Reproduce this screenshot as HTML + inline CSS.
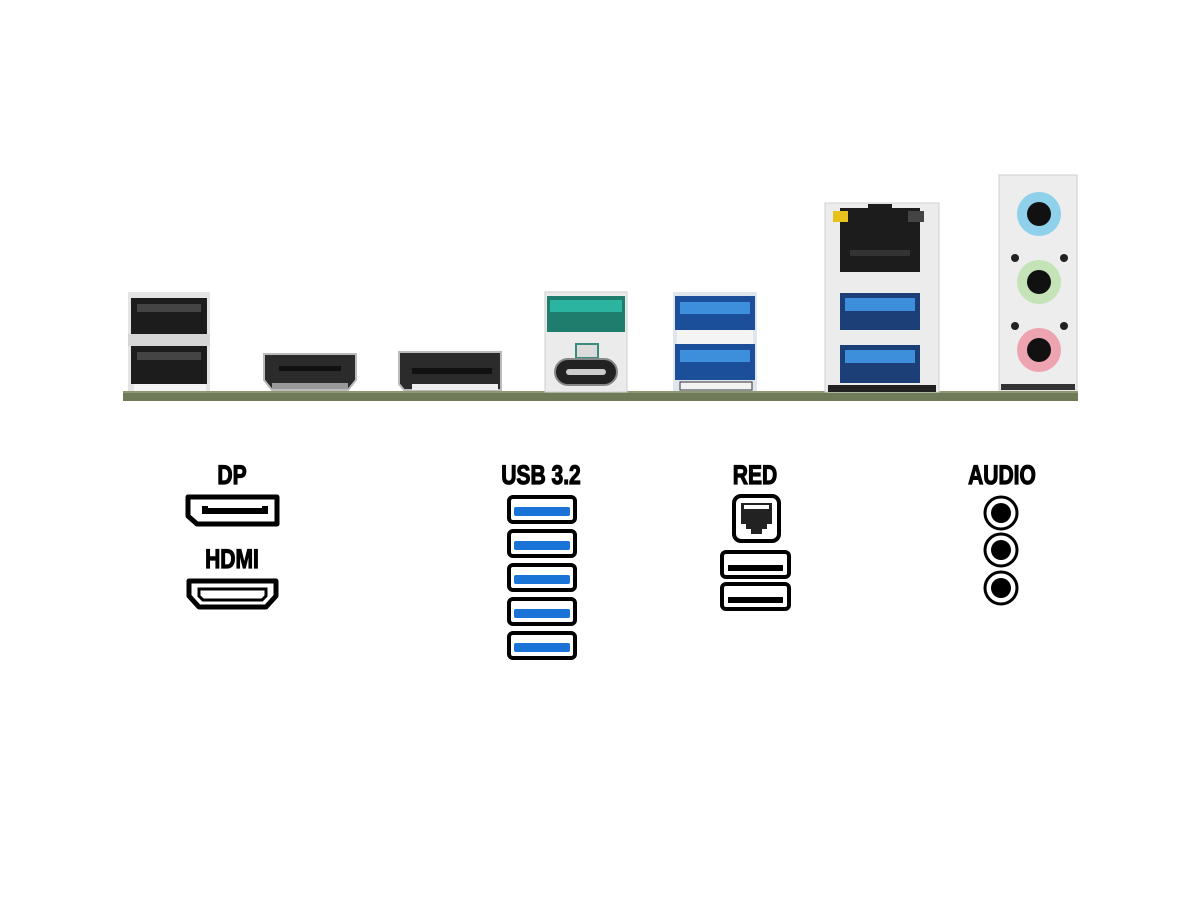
<!DOCTYPE html>
<html><head><meta charset="utf-8"><style>
html,body{margin:0;padding:0;background:#fff;}
svg{display:block}
text{font-family:"Liberation Sans Narrow","Liberation Sans",sans-serif;font-weight:bold;}
</style></head><body>
<svg width="1200" height="900" viewBox="0 0 1200 900" xmlns="http://www.w3.org/2000/svg">
<rect width="1200" height="900" fill="#fff"/>
<rect x="123" y="391" width="955" height="10" fill="#6e7a58"/>
<rect x="123" y="391" width="955" height="2" fill="#8d9873"/>

<rect x="128" y="292" width="82" height="99" fill="#e4e4e4"/>
<rect x="131" y="298" width="76" height="36" fill="#1c1c1c"/>
<rect x="137" y="304" width="64" height="8" fill="#444"/>
<rect x="128" y="334" width="82" height="12" fill="#d6d6d6"/>
<rect x="131" y="346" width="76" height="38" fill="#1c1c1c"/>
<rect x="137" y="352" width="64" height="8" fill="#444"/>
<rect x="134" y="384" width="72" height="7" fill="#f5f5f5"/>

<path d="M264 354 H356 V380 L348 390 H272 L264 380 Z" fill="#2b2b2b" stroke="#bbb" stroke-width="2"/>
<rect x="279" y="366" width="62" height="5" fill="#111"/>
<rect x="272" y="383" width="76" height="6" fill="#999"/>

<path d="M399 352 H501 V390 H404 L399 384 Z" fill="#2b2b2b" stroke="#bbb" stroke-width="2"/>
<rect x="412" y="368" width="80" height="6" fill="#111"/>
<rect x="412" y="384" width="86" height="6" fill="#eee"/>

<rect x="545" y="292" width="82" height="100" fill="#ebebeb" stroke="#ccc"/>
<rect x="547" y="296" width="78" height="36" fill="#1f7d6e"/>
<rect x="550" y="300" width="72" height="12" fill="#2bb5a0"/>
<rect x="576" y="344" width="22" height="14" fill="#dcdcdc" stroke="#3a8c80" stroke-width="2"/>
<rect x="555" y="359" width="62" height="26" rx="13" fill="#222" stroke="#888" stroke-width="2"/>
<rect x="566" y="369" width="40" height="6" rx="3" fill="#ccc"/>

<rect x="673" y="292" width="84" height="99" fill="#dfe6ee"/>
<rect x="675" y="296" width="80" height="34" fill="#1c4f9a"/>
<rect x="680" y="302" width="70" height="12" fill="#3d8fdc"/>
<rect x="677" y="330" width="76" height="14" fill="#f4f4f4"/>
<rect x="675" y="344" width="80" height="36" fill="#1c4f9a"/>
<rect x="680" y="350" width="70" height="12" fill="#3d8fdc"/>
<rect x="680" y="382" width="72" height="8" fill="#f2f2f2" stroke="#333"/>

<rect x="825" y="203" width="114" height="189" fill="#ececec" stroke="#d0d0d0"/>
<rect x="840" y="208" width="80" height="64" fill="#1c1c1c"/>
<rect x="868" y="204" width="24" height="10" fill="#1c1c1c"/>
<rect x="833" y="211" width="15" height="11" fill="#e8c21c"/>
<rect x="908" y="211" width="16" height="11" fill="#444"/>
<rect x="850" y="250" width="60" height="6" fill="#333"/>
<rect x="840" y="293" width="80" height="37" fill="#1d3f78"/>
<rect x="845" y="298" width="70" height="13" fill="#3d8fdc"/>
<rect x="840" y="345" width="80" height="38" fill="#1d3f78"/>
<rect x="845" y="350" width="70" height="13" fill="#3d8fdc"/>
<rect x="828" y="385" width="108" height="7" fill="#222"/>

<rect x="999" y="175" width="78" height="215" fill="#ededed" stroke="#cfcfcf"/>
<rect x="1001" y="384" width="74" height="6" fill="#333"/>
<circle cx="1039" cy="214" r="22" fill="#8fd0ea"/><circle cx="1039" cy="214" r="12" fill="#111"/>
<circle cx="1039" cy="282" r="22" fill="#c4e4b8"/><circle cx="1039" cy="282" r="12" fill="#111"/>
<circle cx="1039" cy="350" r="22" fill="#eea3b0"/><circle cx="1039" cy="350" r="12" fill="#111"/>
<circle cx="1015" cy="258" r="4" fill="#222"/><circle cx="1064" cy="258" r="4" fill="#222"/>
<circle cx="1015" cy="326" r="4" fill="#222"/><circle cx="1064" cy="326" r="4" fill="#222"/>

<g font-size="27" text-anchor="middle" fill="#000" stroke="#000" stroke-width="1.2">
<text x="232" y="484" transform="translate(232 0) scale(0.78 1) translate(-232 0)">DP</text>
<text x="232" y="568" transform="translate(232 0) scale(0.78 1) translate(-232 0)">HDMI</text>
<text x="541" y="484" transform="translate(541 0) scale(0.78 1) translate(-541 0)">USB 3.2</text>
<text x="755" y="484" transform="translate(755 0) scale(0.78 1) translate(-755 0)">RED</text>
<text x="1002" y="484" transform="translate(1002 0) scale(0.78 1) translate(-1002 0)">AUDIO</text>
</g>

<path d="M188 497 H277 V524 H197 L188 516 Z" fill="none" stroke="#000" stroke-width="5" stroke-linejoin="round"/>
<path d="M202 506 V514 H268 V506 H262 V508 H208 V506 Z" fill="#000"/>
<path d="M189 581 H276 V596 L266 607 H199 L189 596 Z" fill="none" stroke="#000" stroke-width="5" stroke-linejoin="round"/>
<path d="M199 589 H266 V596 L262 600 H203 L199 596 Z" fill="none" stroke="#000" stroke-width="3"/>

<g fill="none" stroke="#000" stroke-width="4">
<rect x="509" y="497" width="66" height="25" rx="4"/>
<rect x="509" y="531" width="66" height="25" rx="4"/>
<rect x="509" y="565" width="66" height="25" rx="4"/>
<rect x="509" y="599" width="66" height="25" rx="4"/>
<rect x="509" y="633" width="66" height="25" rx="4"/>
</g>
<g fill="#1a73d6">
<rect x="514" y="507" width="56" height="9" rx="2"/>
<rect x="514" y="541" width="56" height="9" rx="2"/>
<rect x="514" y="575" width="56" height="9" rx="2"/>
<rect x="514" y="609" width="56" height="9" rx="2"/>
<rect x="514" y="643" width="56" height="9" rx="2"/>
</g>

<rect x="734" y="496" width="45" height="45" rx="7" fill="none" stroke="#000" stroke-width="4"/>
<path d="M741 503 H772 V524 H767 V529 H762 V534 H751 V529 H746 V524 H741 Z" fill="#222"/>
<rect x="744" y="505" width="25" height="4" fill="#fff"/>
<rect x="722" y="552" width="67" height="25" rx="4" fill="none" stroke="#000" stroke-width="4"/>
<rect x="728" y="565" width="55" height="6" fill="#000"/>
<rect x="722" y="584" width="67" height="25" rx="4" fill="none" stroke="#000" stroke-width="4"/>
<rect x="728" y="597" width="55" height="6" fill="#000"/>

<g fill="none" stroke="#000" stroke-width="3">
<circle cx="1001" cy="513" r="16"/><circle cx="1001" cy="550" r="16"/><circle cx="1001" cy="588" r="16"/>
</g>
<g fill="#000">
<circle cx="1001" cy="513" r="10"/><circle cx="1001" cy="550" r="10"/><circle cx="1001" cy="588" r="10"/>
</g>
</svg>
</body></html>
